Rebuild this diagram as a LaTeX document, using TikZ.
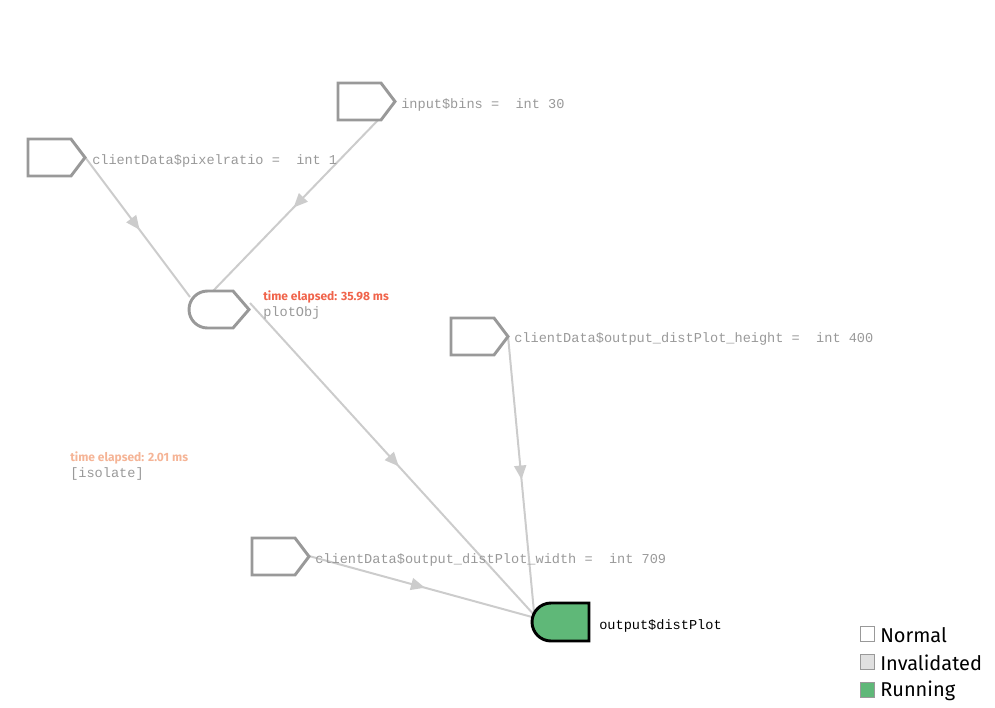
\documentclass[tikz,border=0pt]{standalone}
\usepackage{fontspec}
\setmainfont{Fira Sans}
\newfontfamily\monof{Liberation Mono}
\usetikzlibrary{arrows.meta,decorations.markings}
\definecolor{edgegray}{HTML}{CCCCCC}
\definecolor{shapegray}{HTML}{999999}
\definecolor{txtgray}{HTML}{999999}
\definecolor{runGreen}{HTML}{5FB878}
\definecolor{timeRed}{HTML}{F0644B}
\definecolor{timeLight}{HTML}{F5B496}
\begin{document}
\begin{tikzpicture}[x=0.75pt,y=-0.75pt,
  edge/.style={draw=edgegray,line width=1.5pt,
    postaction={decorate},
    decoration={markings,mark=at position 0.52 with {\arrow[edgegray]{Triangle[length=10.5pt,width=9pt]}}}},
  srcshape/.style={draw=shapegray,line width=2.2pt,line join=miter,fill=white},
  lbl/.style={anchor=west,inner sep=0pt,font=\monof\fontsize{10.2}{12}\selectfont,text=txtgray},
  timelbl/.style={anchor=west,inner sep=0pt,font=\bfseries\fontsize{9}{10}\selectfont},
  legbox/.style={draw=shapegray,line width=0.8pt,minimum size=11pt,inner sep=0pt},
  legtxt/.style={anchor=west,inner sep=0pt,font=\fontsize{15}{17}\selectfont,text=black}
]
\useasboundingbox (0,0) rectangle (995,707);
% connector end points
\coordinate (pxTip) at (85,157);
\coordinate (binsOut) at (381,117);
\coordinate (plotIn1) at (190,297);
\coordinate (plotIn2) at (213,291);
\coordinate (plotOut) at (250,303);
\coordinate (hTip) at (508,336);
\coordinate (wTip) at (309,556);
\coordinate (dIn1) at (536,617);
\coordinate (dIn2) at (534,612);
\coordinate (dIn3) at (532,617);
% edges
\draw[edge] (pxTip) -- (plotIn1);
\draw[edge] (binsOut) -- (plotIn2);
\draw[edge] (plotOut) -- (dIn1);
\draw[edge] (hTip) -- (dIn2);
\draw[edge] (wTip) -- (dIn3);
% shapes
\draw[srcshape] (338,83) -- (381,83) -- (395,101.5) -- (381,120) -- (338,120) -- cycle;
\draw[srcshape] (28,139) -- (71,139) -- (85,157.5) -- (71,176) -- (28,176) -- cycle;
\draw[srcshape] (451,318) -- (494,318) -- (508,336.5) -- (494,355) -- (451,355) -- cycle;
\draw[srcshape] (252,538) -- (295,538) -- (309,556.5) -- (295,575) -- (252,575) -- cycle;
\draw[srcshape] (207.5,291) -- (233,291) -- (249,309.5) -- (233,328) -- (207.5,328)
  arc[start angle=270,end angle=90,radius=13.875pt] -- cycle;
\draw[draw=black,line width=2.2pt,fill=runGreen] (589,603) -- (551,603)
  arc[start angle=90,end angle=270,radius=14.25pt] -- (589,641) -- cycle;
% labels
\node[lbl] (binsL) at (401,104.5) {input\$bins =\ \ int 30};
\node[lbl] (pxL) at (92,160.5) {clientData\$pixelratio =\ \ int 1};
\node[timelbl,text=timeRed] (t1) at (263,297) {time elapsed: 35.98 ms};
\node[lbl] (plotL) at (263,312.5) {plotObj};
\node[lbl] (hL) at (514,338.5) {clientData\$output\_distPlot\_height =\ \ int 400};
\node[timelbl,text=timeLight] (t2) at (70,458) {time elapsed: 2.01 ms};
\node[lbl] (isoL) at (70,473.5) {[isolate]};
\node[lbl] (wL) at (315,559.5) {clientData\$output\_distPlot\_width =\ \ int 709};
\node[lbl,text=black] (dL) at (599,625.5) {output\$distPlot};
% legend
\node[legbox,fill=white] (lb1) at (867.5,634) {};
\node[legbox,fill=black!12] (lb2) at (867.5,662) {};
\node[legbox,fill=runGreen] (lb3) at (867.5,690) {};
\node[legtxt] (lt1) at (880,635) {Normal};
\node[legtxt] (lt2) at (880,663) {Invalidated};
\node[legtxt] (lt3) at (880,691) {Running};
\end{tikzpicture}
\end{document}
